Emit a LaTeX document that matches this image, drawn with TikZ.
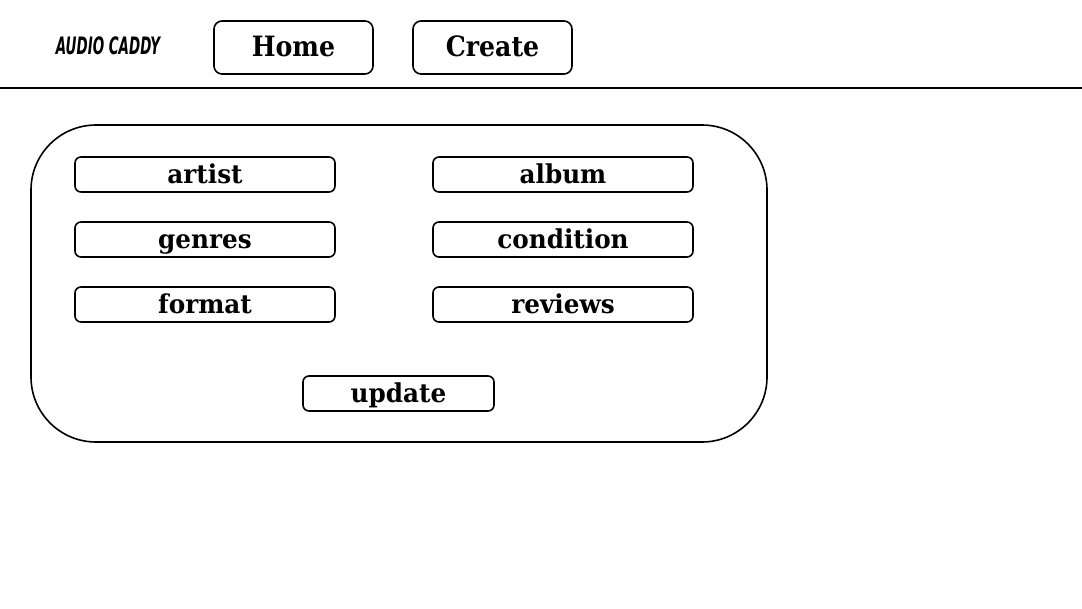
\documentclass[tikz,border=0pt]{standalone}
\usepackage{fontspec}
\newfontfamily\btnfont{DejaVu Serif}[FakeStretch=0.9]
\newfontfamily\fieldfont{DejaVu Serif}[FakeStretch=0.95]
\newfontfamily\logofont{DejaVu Sans}[FakeStretch=0.56]
\tikzset{
  navbtn/.style={draw, line width=1.6pt, rounded corners=8pt, minimum width=159pt, minimum height=53pt, inner sep=0pt, text height=20pt, text depth=2pt, font=\btnfont\bfseries\fontsize{28}{28}\selectfont},
  fieldbox/.style={draw, line width=1.6pt, rounded corners=6pt, minimum width=260pt, minimum height=35pt, inner sep=0pt, text height=20pt, text depth=2pt, font=\fieldfont\bfseries\fontsize{26}{26}\selectfont},
  panelbox/.style={draw, line width=1.6pt, rounded corners=65pt, minimum width=736pt, minimum height=317pt, inner sep=0pt},
  logo/.style={inner sep=0pt, font=\logofont\bfseries\itshape\fontsize{24}{24}\selectfont}
}
\begin{document}
\begin{tikzpicture}[x=1pt,y=-1pt]
\useasboundingbox[fill=white] (0,0) rectangle (1082,608);
\node[logo] (logo) at (108,46) {AUDIO CADDY};
\node[navbtn] (home) at (293.5,47.5) {Home};
\node[navbtn] (create) at (492.5,47.5) {Create};
\coordinate (hl) at (0,88);
\coordinate (hr) at (1082,88);
\draw[line width=1.7pt] (hl) -- (hr);
\node[panelbox] (panel) at (399,283.5) {};
\node[fieldbox] (artist) at (205,174.5) {artist};
\node[fieldbox] (album) at (563,174.5) {album};
\node[fieldbox] (genres) at (205,239.5) {genres};
\node[fieldbox] (condition) at (563,239.5) {condition};
\node[fieldbox] (format) at (205,304.5) {format};
\node[fieldbox] (reviews) at (563,304.5) {reviews};
\node[fieldbox, minimum width=191pt] (update) at (398.5,393.5) {update};
\end{tikzpicture}
\end{document}
